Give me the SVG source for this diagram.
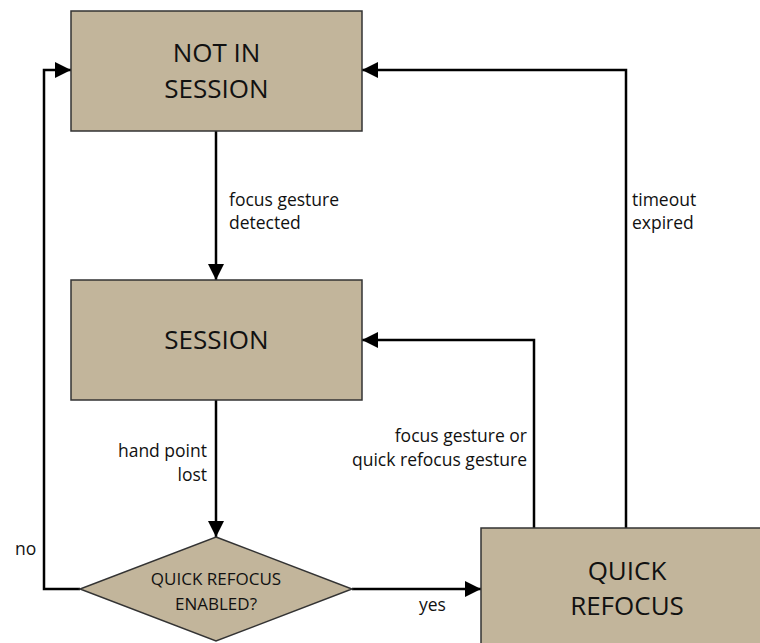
<svg xmlns="http://www.w3.org/2000/svg" width="760" height="643" viewBox="0 0 760 643">
<defs>
<style>
.node{fill:#c2b59b;stroke:#333;stroke-width:1.5}
.big{font-family:"Open Sans","Noto Sans",sans-serif;font-size:26px;fill:#111;text-anchor:middle}
.mid{font-family:"Open Sans","Noto Sans",sans-serif;font-size:17px;fill:#111;text-anchor:middle}
.lbl{font-family:"Open Sans","Noto Sans",sans-serif;font-size:17.5px;fill:#111}
.edge{fill:none;stroke:#000;stroke-width:2.5}
</style>
<marker id="arr" viewBox="0 0 10 10" refX="10" refY="5" markerWidth="6.5" markerHeight="6.5" markerUnits="strokeWidth" orient="auto">
<path d="M0,0 L10,5 L0,10 Z" fill="#000"/>
</marker>
</defs>
<rect width="760" height="643" fill="#fff"/>
<g id="connectors">
<path class="edge" d="M216,131 V280" marker-end="url(#arr)"/>
<path class="edge" d="M216,400 V537" marker-end="url(#arr)"/>
<path class="edge" d="M80,589 H44 V70 H71" marker-end="url(#arr)"/>
<path class="edge" d="M352,589 H481" marker-end="url(#arr)"/>
<path class="edge" d="M534,528 V340 H362" marker-end="url(#arr)"/>
<path class="edge" d="M626,528 V70 H362" marker-end="url(#arr)"/>
<text class="lbl" x="229" y="206">focus gesture</text>
<text class="lbl" x="229" y="229">detected</text>
<text class="lbl" x="632" y="206">timeout</text>
<text class="lbl" x="632" y="229">expired</text>
<text class="lbl" x="207" y="457" text-anchor="end">hand point</text>
<text class="lbl" x="207" y="481" text-anchor="end">lost</text>
<text class="lbl" x="527" y="442" text-anchor="end">focus gesture or</text>
<text class="lbl" x="527" y="466" text-anchor="end">quick refocus gesture</text>
<text class="lbl" x="15" y="555">no</text>
<text class="lbl" x="419" y="611">yes</text>
</g>
<g id="not-in-session">
<rect class="node" x="71" y="11" width="291" height="120"/>
<text class="big" x="216.5" y="62">NOT IN</text>
<text class="big" x="216.5" y="98">SESSION</text>
</g>
<g id="session">
<rect class="node" x="71" y="280" width="291" height="120"/>
<text class="big" x="216.5" y="349">SESSION</text>
</g>
<g id="quick-refocus-enabled">
<polygon class="node" points="216,537 352,589 216,641 80,589"/>
<text class="mid" x="216" y="585">QUICK REFOCUS</text>
<text class="mid" x="216" y="610">ENABLED?</text>
</g>
<g id="quick-refocus">
<rect class="node" x="481" y="528" width="300" height="130"/>
<text class="big" x="627" y="580">QUICK</text>
<text class="big" x="627" y="615">REFOCUS</text>
</g>
</svg>
